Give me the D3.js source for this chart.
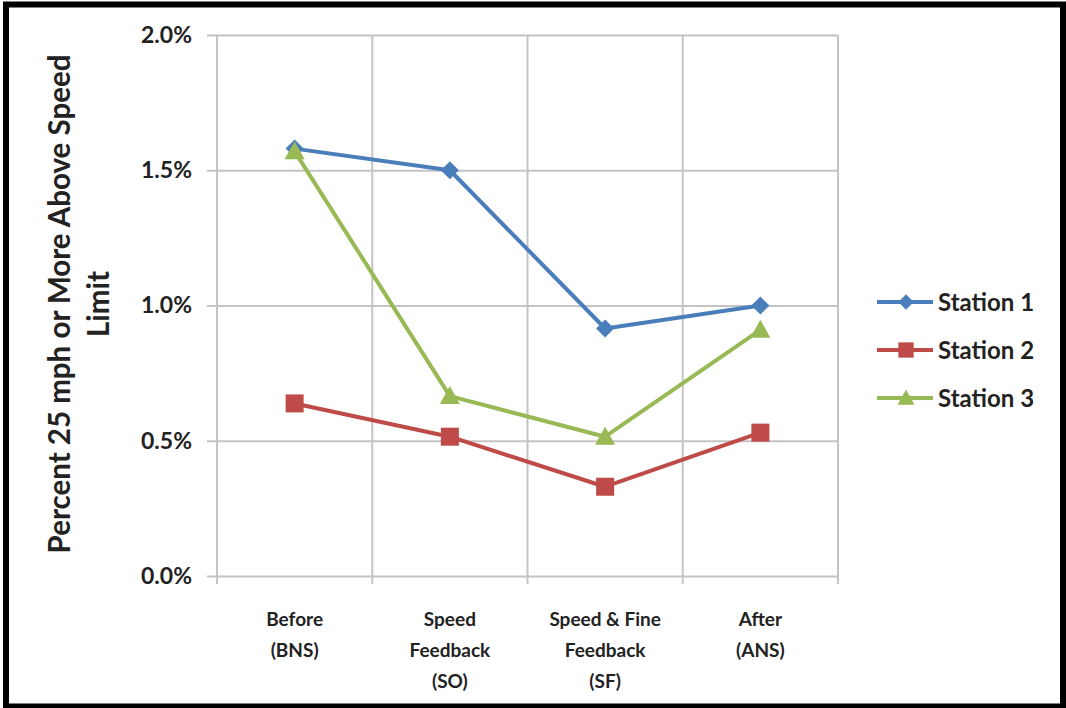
<!DOCTYPE html>
<html>
<head>
<meta charset="utf-8">
<script src="https://cdn.jsdelivr.net/npm/d3@7"></script>
<style>
  body { margin: 0; background: #fff; }
  svg text { font-family: Lato, "Open Sans", sans-serif; font-weight: bold; fill: #222; }
</style>
</head>
<body>
<div id="chart"></div>
<script>
// categories (one array of lines per x label)
let categories = ["BNS", "SO", "SF", "ANS"];
let categoryLines = [
    ["Before", "(BNS)"],
    ["Speed", "Feedback", "(SO)"],
    ["Speed & Fine", "Feedback", "(SF)"],
    ["After", "(ANS)"]
];

let seriesNames = ["Station 1", "Station 2", "Station 3"];
let station1 = [0.0158, 0.0150, 0.00915, 0.0100];
let station2 = [0.00638, 0.00515, 0.0033, 0.0053];
let station3 = [0.0157, 0.00665, 0.00515, 0.0091];
let seriesColors = ["#4A7EBB", "#BE4B48", "#98B954"];
let seriesMarkers = ["diamond", "square", "triangle"];

let yTicks = [0, 0.005, 0.01, 0.015, 0.02];

let W = 1066, H = 708;
let margin = { top: 35, right: 228, bottom: 132, left: 217 };
let width = W - margin.left - margin.right,
    height = H - margin.top - margin.bottom;

let svg = d3.select("#chart").append("svg")
    .attr("width", W)
    .attr("height", H);

let g = svg.append("g")
    .attr("transform", "translate(" + margin.left + "," + margin.top + ")");

let x = d3.scaleBand().domain(categories).range([0, width]);
let y = d3.scaleLinear().domain([0, 0.02]).range([height, 0]);

// horizontal gridlines + y axis
let yAxis = g.append("g")
    .call(d3.axisLeft(y).tickValues(yTicks).tickFormat(d3.format(".1%")).tickSize(10).tickPadding(15));
yAxis.select(".domain").remove();
yAxis.selectAll("line").attr("stroke", "#c4c4c4").attr("stroke-width", 2)
    .attr("x2", width).attr("x1", -10);
yAxis.selectAll("text").style("font-size", "23px").attr("fill", "#2b2b2b");

// vertical gridlines at band edges
let edges = categories.map(function(c) { return x(c); }).concat([x.range()[1]]);
g.selectAll(".vgrid")
    .data(edges)
    .enter().append("line")
    .attr("class", "vgrid")
    .attr("x1", function(d) { return d; })
    .attr("x2", function(d) { return d; })
    .attr("y1", 0)
    .attr("y2", height + 8)
    .attr("stroke", "#c4c4c4")
    .attr("stroke-width", 2);

// x labels
let xl = g.selectAll(".xlabel")
    .data(categories)
    .enter().append("text")
    .attr("class", "xlabel")
    .attr("text-anchor", "middle")
    .attr("transform", function(d) { return "translate(" + (x(d) + x.bandwidth() / 2) + "," + (height + 50) + ")"; })
    .style("font-size", "19px");
xl.selectAll("tspan")
    .data(function(d, i) { return categoryLines[i]; })
    .enter().append("tspan")
    .attr("x", 0)
    .attr("y", function(d, i) { return i * 31; })
    .text(function(d) { return d; });

// y title
let yt = svg.append("text")
    .attr("text-anchor", "middle")
    .attr("transform", "translate(70,304) rotate(-90)")
    .style("font-size", "29.5px");
yt.append("tspan").attr("x", 0).attr("y", 0).text("Percent 25 mph or More Above Speed");
yt.append("tspan").attr("x", 0).attr("y", 39).text("Limit");

// markers
function marker(sel, type, color) {
    if (type == "diamond") {
        sel.append("path").attr("d", "M0,-9L9,0L0,9L-9,0Z").attr("fill", color);
    } else if (type == "square") {
        sel.append("rect").attr("x", -9).attr("y", -9).attr("width", 18).attr("height", 18).attr("fill", color);
    } else {
        sel.append("path").attr("d", "M0,-10L10,8L-10,8Z").attr("fill", color);
    }
}

let allSeries = [station1, station2, station3];
let line = d3.line()
    .x(function(d, i) { return x(categories[i]) + x.bandwidth() / 2; })
    .y(function(d) { return y(d); });

allSeries.forEach(function(vals, s) {
    g.append("path")
        .datum(vals)
        .attr("fill", "none")
        .attr("stroke", seriesColors[s])
        .attr("stroke-width", 4)
        .attr("stroke-linejoin", "round")
        .attr("d", line);
    vals.forEach(function(v, i) {
        let m = g.append("g")
            .attr("transform", "translate(" + (x(categories[i]) + x.bandwidth() / 2) + "," + y(v) + ")");
        marker(m, seriesMarkers[s], seriesColors[s]);
    });
});

// legend
let legend = svg.selectAll(".legend")
    .data(seriesNames)
    .enter().append("g")
    .attr("class", "legend")
    .attr("transform", function(d, i) { return "translate(906," + (302 + i * 48) + ")"; });
legend.append("line")
    .attr("x1", -29).attr("x2", 27)
    .attr("stroke", function(d, i) { return seriesColors[i]; })
    .attr("stroke-width", 4);
legend.each(function(d, i) {
    let m = d3.select(this).append("g").attr("transform", "scale(0.85)");
    marker(m, seriesMarkers[i], seriesColors[i]);
});
legend.append("text")
    .attr("x", 32)
    .attr("dy", "0.36em")
    .style("font-size", "24px")
    .text(function(d) { return d; });

// outer frame
svg.append("rect")
    .attr("x", 6).attr("y", 4.5)
    .attr("width", 1057).attr("height", 702)
    .attr("fill", "none")
    .attr("stroke", "#000")
    .attr("stroke-width", 6);
</script>
</body>
</html>
